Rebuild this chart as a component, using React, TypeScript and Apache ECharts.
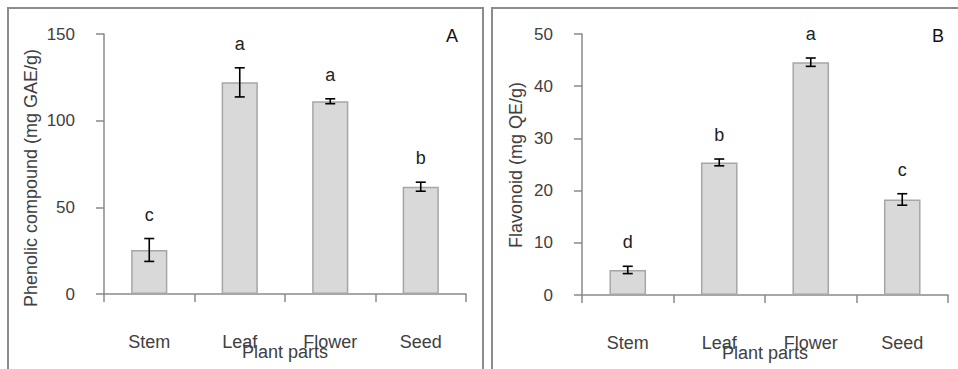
import React, { useEffect, useRef } from "react";
import * as echarts from "echarts";

const categories = ["Stem", "Leaf", "Flower", "Seed"];
const phenolic = [25.4, 122.1, 111.2, 61.9];
const phenolicErr = [6.6, 8.4, 1.4, 2.6];
const phenolicLetters = ["c", "a", "a", "b"];
const flavonoid = [4.8, 25.4, 44.6, 18.3];
const flavonoidErr = [0.7, 0.65, 0.8, 1.1];
const flavonoidLetters = ["d", "b", "a", "c"];
const phenolicTicks = { min: 0, max: 150, interval: 50 };
const flavonoidTicks = { min: 0, max: 50, interval: 10 };

const FONT = "Liberation Sans";
const TEXT = "#404040";
const AXIS = "#8a8a8a";

function errSeries(idx: number, means: number[], errs: number[], letters: string[]) {
  return [
    {
      type: "custom",
      xAxisIndex: idx,
      yAxisIndex: idx,
      z: 5,
      data: categories.map((_, i) => [i, means[i], errs[i]]),
      renderItem: (params: any, api: any) => {
        const x = api.value(0);
        const m = api.value(1);
        const e = api.value(2);
        const t = api.coord([x, m + e]);
        const b = api.coord([x, m - e]);
        const hw = 5;
        const st = { stroke: "#000", lineWidth: 1.6 };
        return {
          type: "group",
          children: [
            { type: "line", shape: { x1: t[0], y1: t[1], x2: b[0], y2: b[1] }, style: st },
            { type: "line", shape: { x1: t[0] - hw, y1: t[1], x2: t[0] + hw, y2: t[1] }, style: st },
            { type: "line", shape: { x1: b[0] - hw, y1: b[1], x2: b[0] + hw, y2: b[1] }, style: st },
          ],
        };
      },
    },
    {
      type: "custom",
      xAxisIndex: idx,
      yAxisIndex: idx,
      z: 6,
      data: categories.map((_, i) => [i, means[i] + errs[i]]),
      renderItem: (params: any, api: any) => {
        const p = api.coord([api.value(0), api.value(1)]);
        return {
          type: "text",
          x: p[0],
          y: p[1] - 24,
          style: {
            text: letters[params.dataIndex],
            fontSize: 18,
            fontFamily: FONT,
            fill: "#222",
            align: "center",
            verticalAlign: "middle",
          },
        };
      },
    },
  ];
}

export default function App() {
  const ref = useRef<HTMLDivElement>(null);
  useEffect(() => {
    if (!ref.current) return;
    const chart = echarts.init(ref.current, undefined, { renderer: "svg" });
    const xAxisBase = (gi: number) => ({
      type: "category",
      gridIndex: gi,
      data: categories,
      name: "Plant parts",
      nameLocation: "middle",
      nameGap: 49,
      nameMoveOverlap: false,
      nameTextStyle: { fontSize: 18, color: TEXT, fontFamily: FONT },
      axisLine: { show: true, lineStyle: { color: AXIS, width: 1.5 } },
      axisTick: { show: true, length: 8, lineStyle: { color: AXIS, width: 1.5 } },
      axisLabel: { fontSize: 18, color: TEXT, fontFamily: FONT, margin: 39 },
      splitLine: { show: false },
    });
    const yAxisBase = (gi: number, t: any) => ({
      type: "value",
      gridIndex: gi,
      min: t.min,
      max: t.max,
      interval: t.interval,
      axisLine: { show: true, lineStyle: { color: AXIS, width: 1.5 } },
      axisTick: { show: true, length: 8, lineStyle: { color: AXIS, width: 1.5 } },
      axisLabel: { fontSize: 17, color: TEXT, fontFamily: FONT, margin: 29 },
      splitLine: { show: false },
    });
    const barBase = (idx: number, vals: number[]) => ({
      type: "bar",
      xAxisIndex: idx,
      yAxisIndex: idx,
      data: vals,
      barWidth: "40%",
      itemStyle: { color: "#d9d9d9", borderColor: "#a6a6a6", borderWidth: 1.5 },
    });
    chart.setOption({
      animation: false,
      textStyle: { fontFamily: FONT },
      grid: [
        { left: 104, top: 34, width: 362, height: 260, containLabel: false, outerBoundsMode: "none" },
        { left: 582, top: 34, width: 366, height: 261, containLabel: false, outerBoundsMode: "none" },
      ],
      xAxis: [xAxisBase(0), xAxisBase(1)],
      yAxis: [yAxisBase(0, phenolicTicks), yAxisBase(1, flavonoidTicks)],
      series: [
        barBase(0, phenolic),
        ...errSeries(0, phenolic, phenolicErr, phenolicLetters),
        barBase(1, flavonoid),
        ...errSeries(1, flavonoid, flavonoidErr, flavonoidLetters),
      ],
      graphic: [
        {
          type: "rect",
          shape: { x: 8, y: 8, width: 475, height: 420 },
          style: { fill: "none", stroke: "#8c8c8c", lineWidth: 2 },
          silent: true,
        },
        {
          type: "rect",
          shape: { x: 492, y: 8, width: 520, height: 420 },
          style: { fill: "none", stroke: "#8c8c8c", lineWidth: 2 },
          silent: true,
        },
        {
          type: "text",
          x: 31,
          y: 178,
          rotation: Math.PI / 2,
          style: {
            text: "Phenolic compound (mg GAE/g)",
            fontSize: 18,
            fontFamily: FONT,
            fill: TEXT,
            align: "center",
            verticalAlign: "middle",
          },
        },
        {
          type: "text",
          x: 516,
          y: 165,
          rotation: Math.PI / 2,
          style: {
            text: "Flavonoid (mg QE/g)",
            fontSize: 18,
            fontFamily: FONT,
            fill: TEXT,
            align: "center",
            verticalAlign: "middle",
          },
        },
        {
          type: "text",
          x: 452,
          y: 36,
          style: { text: "A", fontSize: 18, fontFamily: FONT, fill: "#111", align: "center", verticalAlign: "middle" },
        },
        {
          type: "text",
          x: 938,
          y: 36,
          style: { text: "B", fontSize: 18, fontFamily: FONT, fill: "#111", align: "center", verticalAlign: "middle" },
        },
      ],
    });
    return () => chart.dispose();
  }, []);
  return (
    <div
      ref={ref}
      style={{ position: "absolute", left: 0, top: 0, width: 958, height: 369, background: "#fff" }}
    />
  );
}
